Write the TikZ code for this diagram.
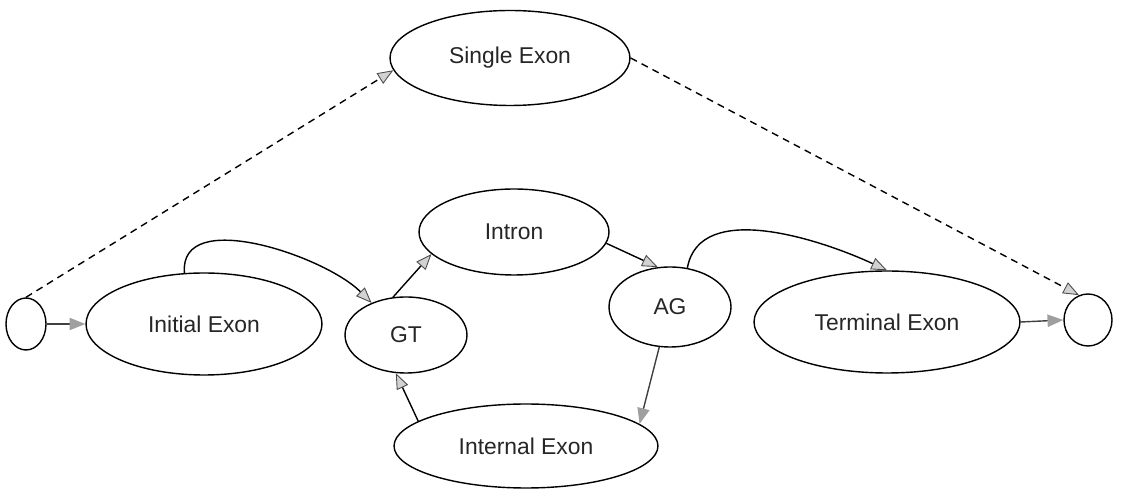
\documentclass[tikz,border=0pt]{standalone}
\usepackage{fontspec}
\setmainfont{Liberation Sans}
\usetikzlibrary{shapes.geometric,arrows.meta}
\begin{document}
\begin{tikzpicture}[x=0.02cm,y=-0.02cm,
    ell/.style={draw,ellipse,line width=0.8pt,inner sep=0pt,font=\fontsize{13}{15}\selectfont,text=black!85},
    sarr/.style={line width=0.8pt,draw=black!75,-{Triangle[length=9pt,width=7pt,color=gray!75,fill=gray!75]}},
    parr/.style={line width=0.8pt,-{Triangle[length=9pt,width=7pt,color=black!70,fill=gray!35,line width=0.5pt]}},
    darr/.style={parr,dash pattern=on 4pt off 3pt}]
    \useasboundingbox (0,0) rectangle (1122,492);
    \node[ell,minimum width=0.8cm,minimum height=1.04cm] (start) at (26,324) {};
    \node[ell,minimum width=4.72cm,minimum height=2.04cm] (initial) at (204,324) {Initial Exon};
    \node[ell,minimum width=2.44cm,minimum height=1.52cm] (gt) at (406,335) {GT};
    \node[ell,minimum width=3.8cm,minimum height=1.72cm] (intron) at (514,232) {Intron};
    \node[ell,minimum width=4.8cm,minimum height=1.9cm] (single) at (510,58) {Single Exon};
    \node[ell,minimum width=2.44cm,minimum height=1.6cm] (ag) at (670,307) {AG};
    \node[ell,minimum width=5.28cm,minimum height=1.68cm] (internal) at (526,446) {Internal Exon};
    \node[ell,minimum width=5.32cm,minimum height=2.04cm] (terminal) at (887,322) {Terminal Exon};
    \node[ell,minimum width=0.96cm,minimum height=1.04cm] (end) at (1088,320) {};
    \draw[sarr] (start) -- (initial);
    \draw[parr] (initial.111) to[out=95,in=135,looseness=0.9] (gt.137);
    \draw[parr] (gt.109) -- (intron.195);
    \draw[parr] (intron.-7) -- (ag.107);
    \draw[parr] (ag.66) to[out=80,in=155,looseness=0.9] (terminal.north);
    \draw[sarr] (ag.255) -- (internal.11);
    \draw[parr] (internal.167) -- (gt.255);
    \draw[sarr] (terminal.east) -- (end.west);
    \draw[darr] (start.north) -- (single.186);
    \draw[darr] (single.east) -- (end.110);
\end{tikzpicture}
\end{document}
